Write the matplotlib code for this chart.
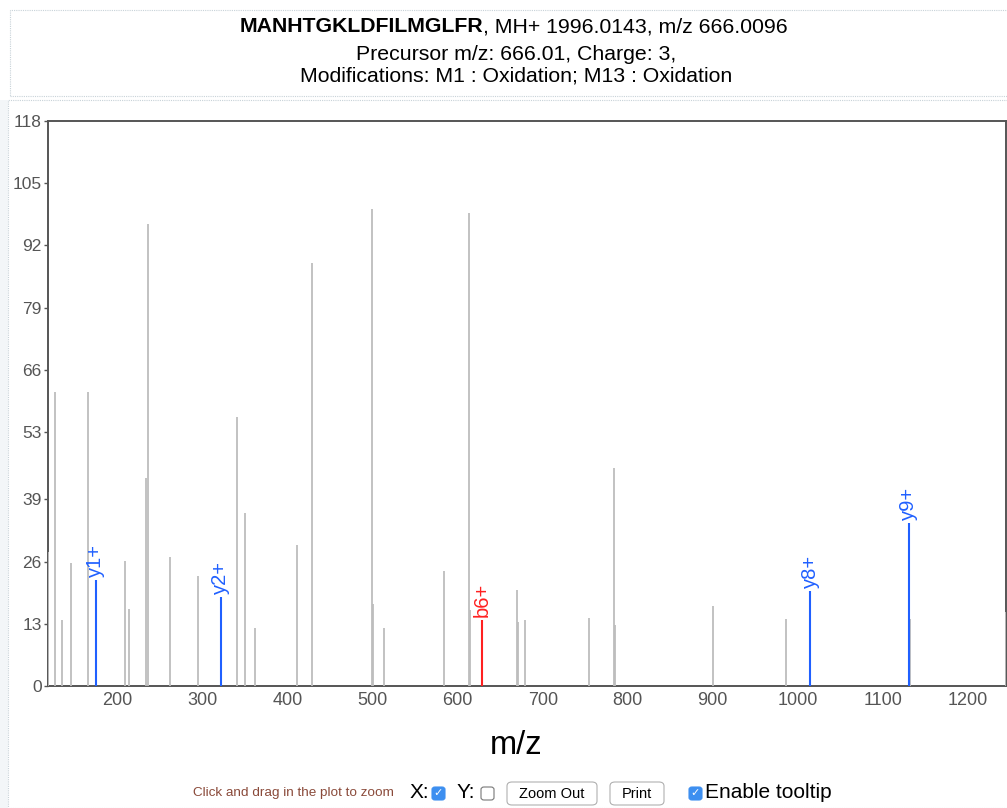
import matplotlib
matplotlib.use('Agg')
import matplotlib.pyplot as plt
from matplotlib.patches import Rectangle, FancyBboxPatch

plt.rcParams['font.family'] = ['Liberation Sans', 'DejaVu Sans']

# Unmatched peaks (m/z, intensity)
peak_mz = [118.3, 125.9, 134.0, 144.7, 164.7, 208.2, 212.9, 233.0, 235.3, 261.2,
           294.1, 340.0, 349.4, 361.2, 410.6, 428.2, 498.8, 500.0, 513.0, 583.5,
           612.9, 614.1, 669.4, 670.6, 678.8, 754.0, 783.5, 784.7, 900.0, 985.9,
           1131.8, 1244.5]
peak_int = [28.0, 61.4, 13.8, 25.7, 61.4, 26.1, 16.1, 43.4, 96.5, 26.9,
            23.0, 56.2, 36.1, 12.1, 29.4, 88.3, 99.6, 17.1, 12.1, 24.0,
            98.8, 15.9, 20.0, 13.4, 13.8, 14.1, 45.5, 12.7, 16.8, 14.0,
            14.0, 15.5]

# Matched fragment ions
ion_labels = ['y1+', 'y2+', 'b6+', 'y8+', 'y9+']
ion_mz = [174.1, 321.2, 628.2, 1014.5, 1130.6]
ion_int = [22.1, 18.6, 13.8, 19.9, 34.1]
ion_type = ['y', 'y', 'b', 'y', 'y']

y_ticks = [0, 13, 26, 39, 53, 66, 79, 92, 105, 118]
x_ticks = [200, 300, 400, 500, 600, 700, 800, 900, 1000, 1100, 1200]

colors = {'y': '#2060ff', 'b': '#ff2020'}

fig = plt.figure(figsize=(10.07, 8.08), dpi=100)
W, H = 1007.0, 808.0

def fx(px):
    return px / W

def fy(py):
    return 1 - py / H

# dotted frames of the page
fig.patches.append(Rectangle((fx(10), fy(96)), fx(1000), 86 / H, transform=fig.transFigure,
                             fill=False, ls=(0, (1, 1)), lw=0.8, ec='#c8d2d8'))
fig.patches.append(Rectangle((fx(0), fy(808)), fx(8), 708 / H, transform=fig.transFigure,
                             fill=True, fc='#f3f6f8', ec='none'))
fig.patches.append(Rectangle((fx(8), fy(808)), fx(1000), 708 / H, transform=fig.transFigure,
                             fill=False, ls=(0, (1, 1)), lw=0.8, ec='#c8d2d8'))

# title block
fig.text(fx(483), fy(27), 'MANHTGKLDFILMGLFR', ha='right', va='center', fontsize=15.3, fontweight='bold')
fig.text(fx(483), fy(27), ', MH+ 1996.0143, m/z 666.0096', ha='left', va='center', fontsize=15.3)
fig.text(fx(516), fy(55), 'Precursor m/z: 666.01, Charge: 3,', ha='center', va='center', fontsize=15.3)
fig.text(fx(516), fy(76), 'Modifications: M1 : Oxidation; M13 : Oxidation', ha='center', va='center', fontsize=15.3)

ax = fig.add_axes([fx(48), fy(686), fx(1006) - fx(48), (686 - 121) / H])
ax.vlines(peak_mz, 0, peak_int, color='#bdbdbd', lw=1.3, zorder=3)
for lab, mz, inten, t in zip(ion_labels, ion_mz, ion_int, ion_type):
    ax.vlines(mz, 0, inten, color=colors[t], lw=1.5, zorder=4)
    ax.annotate(lab, (mz, inten), xytext=(0, 2), textcoords='offset points',
                rotation=90, ha='center', va='bottom', fontsize=14.5, color=colors[t])

ax.set_xlim(118, 1245)
ax.set_ylim(0, 118)
ax.set_xticks(x_ticks)
ax.set_yticks(y_ticks)
ax.set_yticklabels([str(v) for v in y_ticks])
ax.tick_params(axis='both', labelsize=12.5, labelcolor='#555555', color='#555555', length=3, width=1, pad=1.5)
ax.tick_params(axis='x', length=0, pad=4, labelsize=13)
for s in ax.spines.values():
    s.set_color('#555555')
    s.set_linewidth(1.4)

fig.text(fx(516), fy(745), 'm/z', ha='center', va='center', fontsize=23.5)

# controls below the plot
yc = fy(793)
fig.text(fx(193), yc, 'Click and drag in the plot to zoom', ha='left', va='center', fontsize=9.7, color='#8a4a3a')
fig.text(fx(410), yc, 'X:', ha='left', va='center', fontsize=15)
fig.text(fx(457), yc, 'Y:', ha='left', va='center', fontsize=15)
fig.text(fx(705), yc, 'Enable tooltip', ha='left', va='center', fontsize=15)


def checkbox(x, checked):
    fc = '#3d8ff0' if checked else 'white'
    ec = '#3d8ff0' if checked else '#777777'
    fig.patches.append(FancyBboxPatch((fx(x), fy(800)), 13 / W, 13 / H, transform=fig.transFigure,
                                      boxstyle='round,pad=0,rounding_size=0.003', fc=fc, ec=ec, lw=0.8))
    if checked:
        fig.text(fx(x + 6.5), fy(793), '\u2713', ha='center', va='center', fontsize=8,
                 color='white', family=['DejaVu Sans'])


checkbox(432, True)
checkbox(481, False)
checkbox(689, True)


def button(x0, x1, label):
    fig.patches.append(FancyBboxPatch((fx(x0), fy(805)), (x1 - x0) / W, 23 / H, transform=fig.transFigure,
                                      boxstyle='round,pad=0,rounding_size=0.005', fc='white', ec='#b0b0b0', lw=0.8))
    fig.text(fx((x0 + x1) / 2), fy(794), label, ha='center', va='center', fontsize=10.5)


button(507, 597, 'Zoom Out')
button(610, 664, 'Print')

fig.savefig('out.png', dpi=100)
